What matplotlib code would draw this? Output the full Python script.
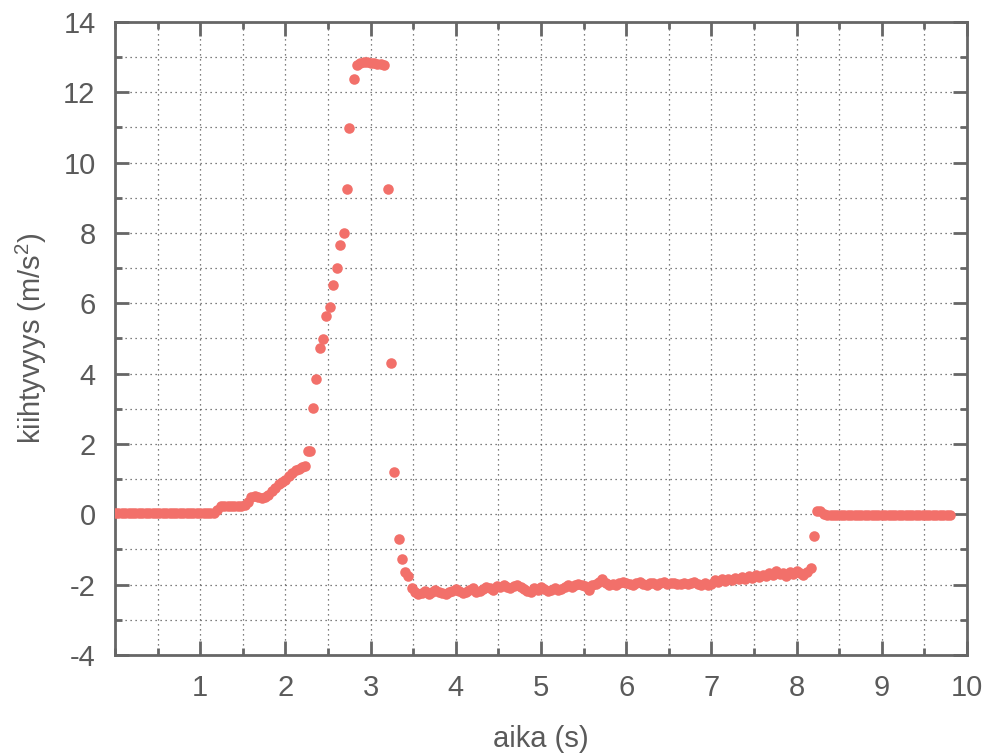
import numpy as np
import matplotlib.pyplot as plt
from matplotlib.ticker import MultipleLocator

# sample times (s) and acceleration (m/s^2)
t_start = [0.00, 0.04, 0.08, 0.12, 0.16, 0.20, 0.24, 0.28, 0.32, 0.36, 0.40, 0.44,
           0.48, 0.52, 0.56, 0.60, 0.64, 0.68, 0.72, 0.76, 0.80, 0.84, 0.88, 0.92,
           0.96, 1.00, 1.04, 1.08, 1.12, 1.16]
a_start = [0.03] * 30

t_rise = [1.20, 1.24, 1.28, 1.32, 1.36, 1.40, 1.44, 1.48, 1.52, 1.56, 1.60, 1.64,
          1.68, 1.72, 1.76, 1.80, 1.84, 1.88, 1.92, 1.96, 2.00, 2.04, 2.08, 2.12,
          2.16, 2.20, 2.23, 2.26, 2.29, 2.32, 2.36, 2.40, 2.44, 2.48, 2.52, 2.56,
          2.60, 2.64, 2.69, 2.72, 2.75, 2.81]
a_rise = [0.12, 0.24, 0.25, 0.23, 0.24, 0.25, 0.23, 0.24, 0.26, 0.36, 0.48, 0.52,
          0.50, 0.46, 0.48, 0.56, 0.66, 0.74, 0.85, 0.92, 0.98, 1.08, 1.18, 1.25,
          1.30, 1.34, 1.38, 1.80, 1.80, 3.02, 3.85, 4.74, 4.99, 5.64, 5.90, 6.52,
          7.00, 7.66, 7.99, 9.25, 10.99, 12.38]

t_peak = [2.84, 2.88, 2.92, 2.96, 3.00, 3.04, 3.08, 3.12, 3.16]
a_peak = [12.78, 12.82, 12.85, 12.85, 12.83, 12.82, 12.80, 12.80, 12.78]

t_drop = [3.20, 3.24, 3.28, 3.33, 3.37, 3.40, 3.44, 3.48]
a_drop = [9.25, 4.30, 1.20, -0.70, -1.28, -1.63, -1.75, -2.10]

t_brake = [3.52, 3.56, 3.60, 3.64, 3.68, 3.72, 3.76, 3.80, 3.84, 3.88, 3.92, 3.96,
           4.00, 4.04, 4.08, 4.12, 4.16, 4.20, 4.24, 4.28, 4.32, 4.36, 4.40, 4.44,
           4.48, 4.52, 4.56, 4.60, 4.64, 4.68, 4.72, 4.76, 4.80, 4.84, 4.88, 4.92,
           4.96, 5.00, 5.04, 5.08, 5.12, 5.16, 5.20, 5.24, 5.28, 5.32, 5.36, 5.40,
           5.44, 5.48, 5.52, 5.56, 5.60, 5.64, 5.68, 5.72, 5.76, 5.80, 5.84, 5.88,
           5.92, 5.96, 6.00, 6.04, 6.08, 6.12, 6.16, 6.20, 6.24, 6.28, 6.32, 6.36,
           6.40, 6.44, 6.48, 6.52, 6.56, 6.60, 6.64, 6.68, 6.72, 6.76, 6.80, 6.84,
           6.88, 6.92, 6.96, 7.00, 7.04, 7.08, 7.12, 7.16, 7.20, 7.24, 7.28, 7.32,
           7.36, 7.40, 7.44, 7.48, 7.52, 7.56, 7.60, 7.64, 7.68, 7.72, 7.76, 7.80,
           7.84, 7.88, 7.92, 7.96, 8.00, 8.04, 8.08, 8.12, 8.17]
a_brake = [-2.22, -2.28, -2.25, -2.18, -2.26, -2.22, -2.15, -2.20, -2.24, -2.28, -2.20, -2.18,
           -2.12, -2.18, -2.25, -2.20, -2.14, -2.10, -2.22, -2.18, -2.12, -2.06, -2.10, -2.15,
           -2.05, -2.08, -2.02, -2.06, -2.10, -2.04, -2.00, -2.08, -2.12, -2.18, -2.22, -2.10,
           -2.15, -2.08, -2.12, -2.18, -2.14, -2.10, -2.16, -2.12, -2.06, -2.02, -2.08, -2.02,
           -1.98, -2.02, -2.05, -2.15, -2.02, -1.98, -1.92, -1.85, -1.95, -2.00, -1.97, -2.02,
           -1.96, -1.92, -1.96, -1.98, -2.00, -1.96, -1.93, -1.98, -2.02, -1.94, -1.96, -2.00,
           -1.96, -1.92, -1.98, -1.96, -1.95, -1.99, -1.97, -1.95, -1.98, -1.96, -1.93, -1.97,
           -2.00, -1.96, -2.02, -1.98, -1.88, -1.92, -1.85, -1.90, -1.84, -1.88, -1.80, -1.84,
           -1.78, -1.83, -1.76, -1.80, -1.74, -1.78, -1.72, -1.75, -1.68, -1.74, -1.62, -1.70,
           -1.66, -1.75, -1.64, -1.70, -1.62, -1.68, -1.72, -1.65, -1.52]

t_end = [8.20, 8.24, 8.28, 8.32, 8.36, 8.40, 8.44, 8.48, 8.52, 8.56, 8.60, 8.64,
         8.68, 8.72, 8.76, 8.80, 8.84, 8.88, 8.92, 8.96, 9.00, 9.04, 9.08, 9.12,
         9.16, 9.20, 9.24, 9.28, 9.32, 9.36, 9.40, 9.44, 9.48, 9.52, 9.56, 9.60,
         9.64, 9.68, 9.72, 9.76, 9.80]
a_end = [-0.62, 0.10, 0.08, 0.00] + [-0.03] * 37

t = np.concatenate([t_start, t_rise, t_peak, t_drop, t_brake, t_end])
a = np.concatenate([a_start, a_rise, a_peak, a_drop, a_brake, a_end])

plt.rcParams['font.family'] = ['Liberation Sans', 'DejaVu Sans']
plt.rcParams['mathtext.fontset'] = 'custom'
plt.rcParams['mathtext.rm'] = 'Liberation Sans'
plt.rcParams['mathtext.it'] = 'Liberation Sans'
plt.rcParams['axes.unicode_minus'] = False

fig = plt.figure(figsize=(9.85, 7.55), dpi=100)
ax = fig.add_axes([0.1168, 0.1325, 0.8649, 0.8384])

ax.plot(t, a, 'o', color='#f2706a', markersize=7.6, markeredgewidth=0, zorder=3)

ax.set_xlim(0, 10)
ax.set_ylim(-4, 14)
ax.xaxis.set_major_locator(MultipleLocator(1))
ax.xaxis.set_minor_locator(MultipleLocator(0.5))
ax.yaxis.set_major_locator(MultipleLocator(2))
ax.yaxis.set_minor_locator(MultipleLocator(1))
ax.set_xticks(range(1, 11))
ax.set_xticklabels([str(i) for i in range(1, 11)])

ax.grid(True, which='both', color='#555555', linestyle=(0, (1, 3)), linewidth=0.9)
ax.set_axisbelow(True)

for s in ax.spines.values():
    s.set_color('#666666')
    s.set_linewidth(2)

ax.tick_params(which='both', direction='in', top=True, right=True, colors='#666666',
               labelcolor='#5a5a5a', labelsize=21, pad=14)
ax.tick_params(which='major', length=10, width=2)
ax.tick_params(which='minor', length=5, width=2)

ax.set_xlabel('aika (s)', fontsize=21, color='#5a5a5a', labelpad=16)
ax.set_ylabel('kiihtyvyys (m/s$^2$)', fontsize=21, color='#5a5a5a', labelpad=10)

fig.savefig('out.png', dpi=100)
